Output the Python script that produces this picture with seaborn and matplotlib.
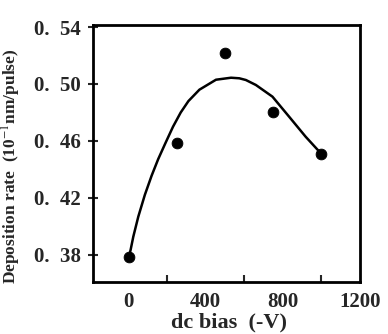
import matplotlib
matplotlib.use('Agg')
import matplotlib.pyplot as plt
import seaborn as sns
import pandas as pd

# measured points
bias = [0, 250, 500, 750, 1000]
rate = [0.3788, 0.4586, 0.522, 0.4806, 0.4509]

# smooth curve
curve_x = [0, 10, 24, 50, 84, 119, 153, 190, 230, 270, 310, 367, 453, 531, 574,
           608, 660, 746, 832, 918, 1000]
curve_y = [0.378, 0.3835, 0.3928, 0.4069, 0.4222, 0.4356, 0.4472, 0.4583, 0.4700,
           0.4800, 0.4880, 0.4960, 0.5030, 0.5044, 0.5040, 0.5028, 0.4993, 0.4911,
           0.4771, 0.4630, 0.4509]

xticks = [0, 400, 800, 1200]
xminor = [200, 600, 1000]
yticks = [0.38, 0.42, 0.46, 0.50, 0.54]
ytick_labels = ['0.  38', '0.  42', '0.  46', '0.  50', '0.  54']

sns.set_style('white')
plt.rcParams['font.family'] = ['Liberation Serif', 'DejaVu Serif']
plt.rcParams['mathtext.fontset'] = 'stix'

fig = plt.figure(figsize=(3.88, 3.34), dpi=100)
ax = fig.add_axes([0.2397, 0.1557, 0.6881, 0.7694])

pts = pd.DataFrame({'bias': bias, 'rate': rate})
cur = pd.DataFrame({'x': curve_x, 'y': curve_y})

sns.lineplot(data=cur, x='x', y='y', ax=ax, color='black', linewidth=1.8, sort=True)
sns.scatterplot(data=pts, x='bias', y='rate', ax=ax, color='black', s=60, edgecolor='black', zorder=3)

ax.set_xlim(-185, 1195)
ax.set_ylim(0.361, 0.5414)

ax.set_xticks(xticks)
ax.set_xticklabels([str(t) for t in xticks], fontsize=15, fontweight='bold')
ax.set_xticks(xminor, minor=True)
ax.tick_params(axis='x', which='major', length=0, pad=7)
ax.tick_params(axis='x', which='minor', direction='in', length=5, width=1.5, bottom=True)

ax.set_yticks(yticks)
ax.set_yticklabels(ytick_labels, fontsize=15, fontweight='bold')
ax.tick_params(axis='y', which='major', direction='inout', length=7, width=1.5, left=True, pad=5)

for sp in ax.spines.values():
    sp.set_linewidth(2)
    sp.set_color('black')

ax.set_xlabel('dc bias  (-V)', fontsize=16, fontweight='bold')
ax.set_ylabel(r'Deposition rate  (10$^{-1}$nm/pulse)', fontsize=12.5, fontweight='bold')
ax.yaxis.set_label_coords(-0.262, 0.45)
ax.xaxis.set_label_coords(0.51, -0.12)

fig.savefig('out.png', dpi=100)
